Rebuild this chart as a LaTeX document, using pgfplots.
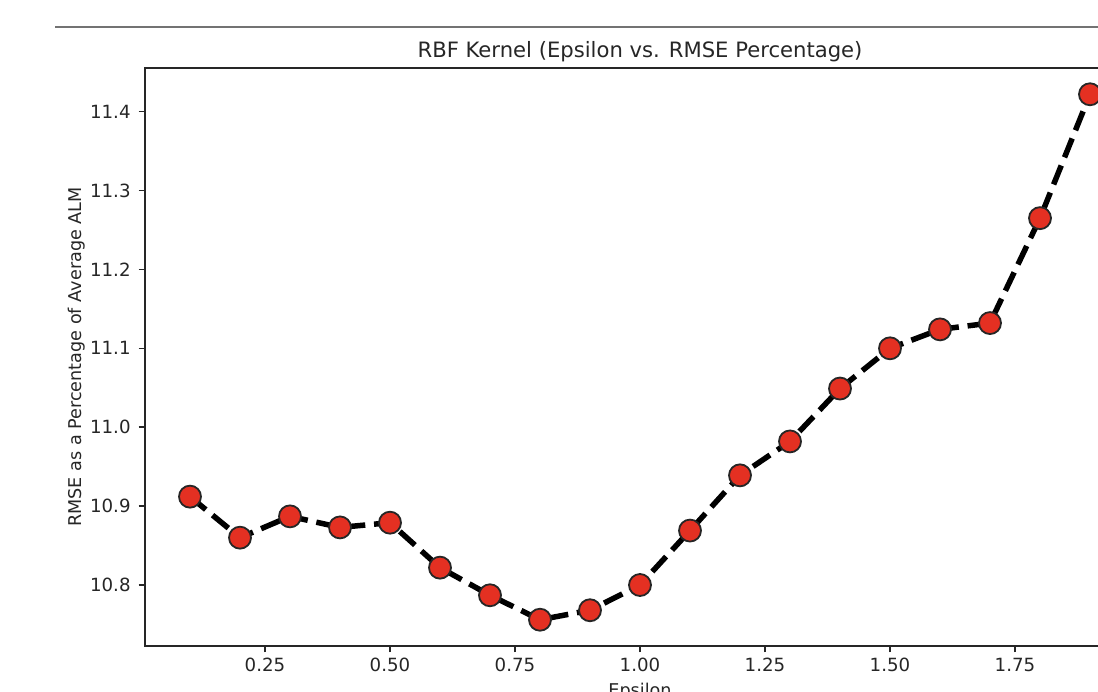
\documentclass[border=0pt]{standalone}
\usepackage{fontspec}
\setmainfont{DejaVu Sans}
\usepackage{pgfplots}
\pgfplotsset{compat=1.18}
\definecolor{mred}{RGB}{228,48,34}
\pgfplotstableread{
x y
0.1 10.912
0.2 10.860
0.3 10.887
0.4 10.873
0.5 10.879
0.6 10.822
0.7 10.787
0.8 10.756
0.9 10.768
1.0 10.800
1.1 10.869
1.2 10.939
1.3 10.982
1.4 11.049
1.5 11.100
1.6 11.124
1.7 11.132
1.8 11.265
1.9 11.422
}\datatable
\begin{document}
\begin{tikzpicture}
\path[use as bounding box] (0pt,0pt) rectangle (549pt,345.5pt);
\clip (0pt,0pt) rectangle (549pt,345.5pt);
\draw[black!55, line width=0.7pt] (27.5pt,332pt) -- (549pt,332pt);
\begin{axis}[
  at={(72.5pt,22.5pt)}, anchor=south west,
  scale only axis, width=495pt, height=289pt,
  xmin=0.01, xmax=1.99, ymin=10.7227, ymax=11.4553,
  axis line style={black!85, line width=0.73pt},
  tick style={black!85, line width=0.73pt},
  tick align=outside, major tick length=3.2pt,
  xtick pos=bottom, ytick pos=left,
  xtick={0.25,0.5,0.75,1.0,1.25,1.5,1.75},
  xticklabels={0.25,0.50,0.75,1.00,1.25,1.50,1.75},
  ytick={10.8,10.9,11.0,11.1,11.2,11.3,11.4},
  yticklabels={10.8,10.9,11.0,11.1,11.2,11.3,11.4},
  ticklabel style={font=\fontsize{9.1}{11}\selectfont, text=black!85},
  xticklabel style={anchor=north, inner sep=0pt, yshift=-2.5pt},
  yticklabel style={anchor=east, inner sep=0pt, xshift=-3.8pt},
  /pgf/number format/assume math mode=true,
  title={RBF Kernel (Epsilon vs. RMSE Percentage)},
  title style={at={(axis description cs:0.5,1.0185)}, anchor=base, inner sep=0pt, yshift=-6pt, text=black!85, font=\fontsize{10.57}{13}\selectfont},
  xlabel={Epsilon},
  xlabel style={at={(axis description cs:0.5,-0.0875)}, anchor=base, inner sep=0pt, text=black!85, font=\fontsize{8.8}{11}\selectfont},
  ylabel={RMSE as a Percentage of Average ALM},
  ylabel style={at={(axis description cs:-0.0692,0.5)}, anchor=center, inner sep=0pt, text=black!85, font=\fontsize{8.8}{11}\selectfont},
  clip=false,
]
\addplot[black, line width=2.75pt, dash pattern=on 10.2pt off 4.4pt,
  mark=*, mark size=5.5pt,
  mark options={solid, fill=mred, draw=black!85, line width=0.9pt}]
  table[x=x,y=y] {\datatable};
\end{axis}
\end{tikzpicture}
\end{document}
